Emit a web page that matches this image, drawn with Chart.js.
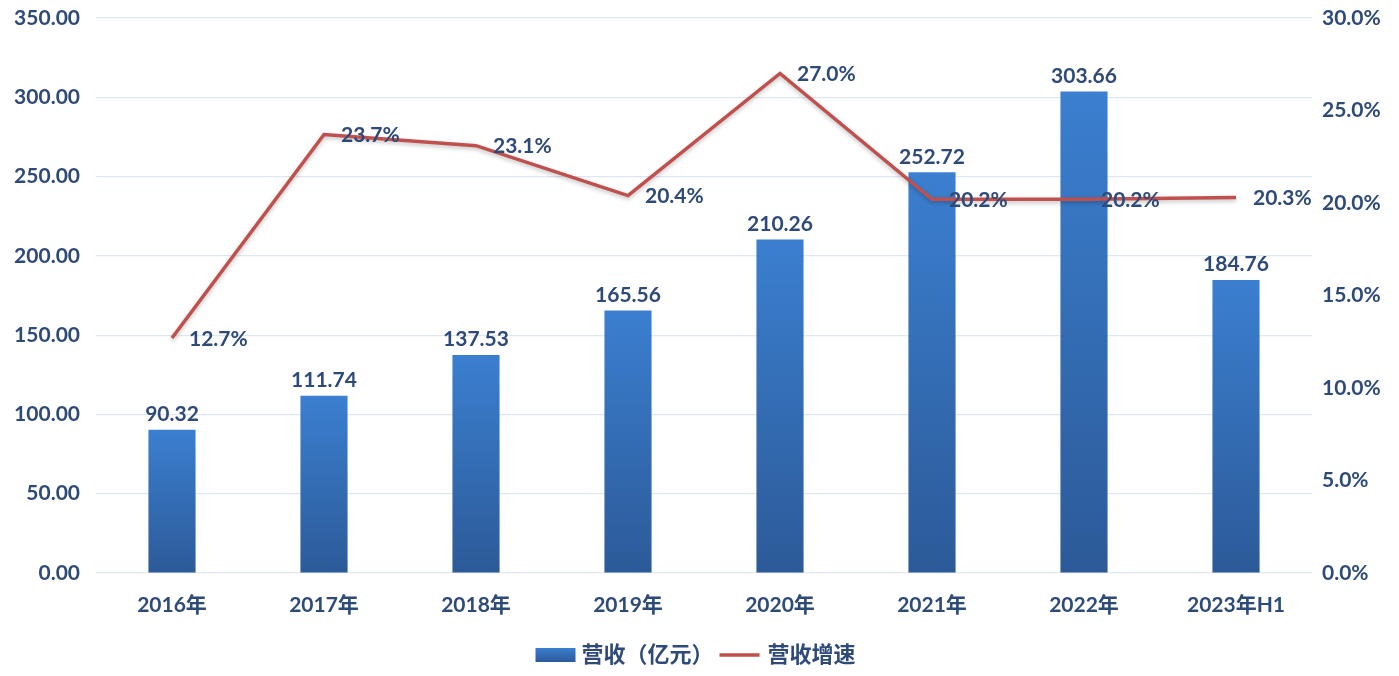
<!DOCTYPE html>
<html>
<head>
<meta charset="utf-8">
<script src="https://cdn.jsdelivr.net/npm/chart.js@4/dist/chart.umd.min.js"></script>
<style>
  html, body { margin: 0; padding: 0; background: #fff; }
  #wrap { width: 1399px; height: 676px; }
</style>
</head>
<body>
<div id="wrap"><canvas id="revChart"></canvas></div>
<script>
// 数据
const years = ["2016年", "2017年", "2018年", "2019年", "2020年", "2021年", "2022年", "2023年H1"];
const revenue = [90.32, 111.74, 137.53, 165.56, 210.26, 252.72, 303.66, 184.76]; // 营收（亿元）
const growth = [12.7, 23.7, 23.1, 20.4, 27.0, 20.2, 20.2, 20.3];                // 营收增速 %
const seriesNames = ["营收（亿元）", "营收增速"];

const textColor = "#2e4a78";
const barColor = "#3670c0";
const lineColor = "#c0504d";
const fontFamily = "Lato, 'Noto Sans CJK SC', sans-serif";

// 每根柱子自己的渐变：顶部浅蓝，底部深蓝
function barGradient(ctx) {
  const chart = ctx.chart;
  const y = chart.scales.y;
  if (!chart.chartArea || !y || ctx.dataIndex === undefined) return barColor;
  const top = y.getPixelForValue(revenue[ctx.dataIndex]);
  const bottom = y.getPixelForValue(0);
  const g = chart.ctx.createLinearGradient(0, top, 0, bottom);
  g.addColorStop(0, "#3b7fd0");
  g.addColorStop(1, "#2c5a98");
  return g;
}

// 数值标签（没有 datalabels 插件，自己画）
const valueLabels = {
  id: "valueLabels",
  afterDatasetsDraw(chart) {
    const ctx = chart.ctx;
    ctx.save();
    ctx.font = "bold 21px " + fontFamily;
    ctx.fillStyle = textColor;

    chart.getDatasetMeta(0).data.forEach((bar, i) => {
      ctx.textAlign = "center";
      ctx.textBaseline = "bottom";
      ctx.fillText(revenue[i].toFixed(2), bar.x, bar.y - 5);
    });

    chart.getDatasetMeta(1).data.forEach((pt, i) => {
      ctx.textAlign = "left";
      ctx.textBaseline = "middle";
      ctx.fillText(growth[i].toFixed(1) + "%", pt.x + 17, pt.y + 1);
    });
    ctx.restore();
  }
};

// 折线阴影
const lineShadow = {
  id: "lineShadow",
  beforeDatasetDraw(chart, args) {
    if (args.index !== 1) return;
    const ctx = chart.ctx;
    ctx.save();
    ctx.shadowColor = "rgba(0,0,0,0.25)";
    ctx.shadowBlur = 4;
    ctx.shadowOffsetY = 2;
  },
  afterDatasetDraw(chart, args) {
    if (args.index !== 1) return;
    chart.ctx.restore();
  }
};

// 底部图例：柱子用方块，折线用短线
const bottomLegend = {
  id: "bottomLegend",
  afterDraw(chart) {
    const ctx = chart.ctx;
    const y = chart.height - 21;
    ctx.save();
    ctx.font = "bold 22px " + fontFamily;
    ctx.textBaseline = "middle";
    ctx.textAlign = "left";
    const w0 = ctx.measureText(seriesNames[0]).width;
    const w1 = ctx.measureText(seriesNames[1]).width;
    const total = 40 + 6 + w0 + 6 + 40 + 8 + w1;
    let x = (chart.width - total) / 2 - 4;

    const g = ctx.createLinearGradient(0, y - 7, 0, y + 7);
    g.addColorStop(0, "#3b7fd0");
    g.addColorStop(1, "#2c5a98");
    ctx.fillStyle = g;
    ctx.fillRect(x, y - 7, 40, 14);
    x += 46;
    ctx.fillStyle = textColor;
    ctx.fillText(seriesNames[0], x, y);
    x += w0 + 6;

    ctx.strokeStyle = lineColor;
    ctx.lineWidth = 3.5;
    ctx.beginPath();
    ctx.moveTo(x, y);
    ctx.lineTo(x + 40, y);
    ctx.stroke();
    x += 48;
    ctx.fillText(seriesNames[1], x, y);
    ctx.restore();
  }
};

// 纵轴不再为首尾刻度额外留白，绘图区顶部由 layout.padding 控制
function fixYAxis(width) {
  return scale => {
    scale.width = width;
    scale.paddingTop = 0;
    scale.paddingBottom = 0;
  };
}

document.addEventListener("DOMContentLoaded", () => {
  const ctx = document.getElementById("revChart").getContext("2d");
  new Chart(ctx, {
    data: {
      labels: years,
      datasets: [
        {
          type: "bar",
          label: seriesNames[0],
          data: revenue,
          yAxisID: "y",
          backgroundColor: barGradient,
          barPercentage: 0.62,
          categoryPercentage: 0.5,
          order: 1
        },
        {
          type: "line",
          label: seriesNames[1],
          data: growth,
          yAxisID: "y1",
          borderColor: lineColor,
          backgroundColor: lineColor,
          borderWidth: 3.5,
          pointRadius: 0,
          tension: 0,
          order: 0
        }
      ]
    },
    plugins: [lineShadow, valueLabels, bottomLegend],
    options: {
      responsive: true,
      maintainAspectRatio: false,
      animation: false,
      layout: { padding: { top: 18, bottom: 41, left: 0, right: 0 } },
      scales: {
        x: {
          grid: { display: false, drawTicks: false },
          border: { display: false },
          ticks: { color: textColor, font: { family: fontFamily, size: 21, weight: "bold" }, padding: 20 },
          afterFit(scale) { scale.height = 62; }
        },
        y: {
          position: "left",
          min: 0,
          max: 350,
          ticks: {
            stepSize: 50,
            color: textColor,
            font: { family: fontFamily, size: 21, weight: "bold" },
            padding: 16,
            callback: v => v.toFixed(2)
          },
          grid: { color: "#dfe7f3", lineWidth: 1.2, drawTicks: false },
          border: { display: false },
          afterFit: fixYAxis(96)
        },
        y1: {
          position: "right",
          min: 0,
          max: 30,
          ticks: {
            stepSize: 5,
            color: textColor,
            font: { family: fontFamily, size: 21, weight: "bold" },
            padding: 10,
            callback: v => v.toFixed(1) + "%"
          },
          grid: { display: false, drawTicks: false },
          border: { display: false },
          afterFit: fixYAxis(87)
        }
      },
      plugins: {
        tooltip: { enabled: false },
        legend: { display: false }
      }
    }
  });
});
</script>
</body>
</html>
